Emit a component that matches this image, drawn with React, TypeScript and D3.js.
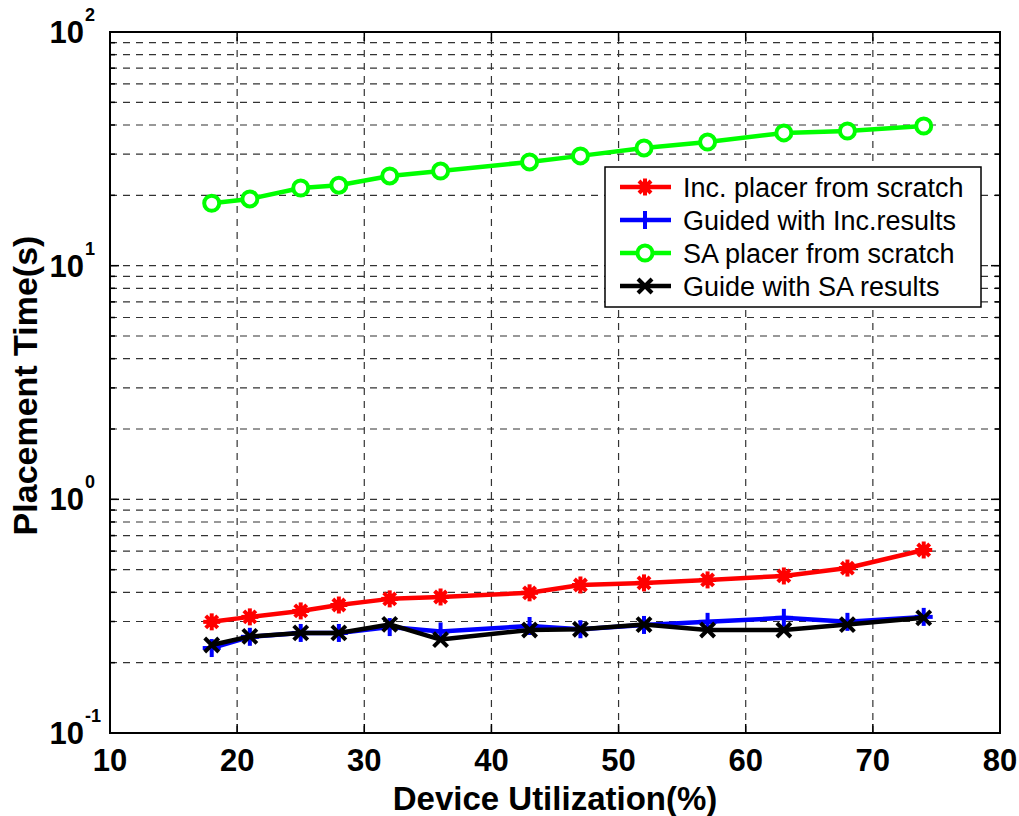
import React from "react";
import * as d3 from "d3";

// device utilization (%) at each run
const utilization = [18, 21, 25, 28, 32, 36, 43, 47, 52, 57, 63, 68, 74];

// placement time in seconds
const incScratch = [0.299, 0.314, 0.333, 0.353, 0.375, 0.382, 0.398, 0.43, 0.439, 0.452, 0.47, 0.508, 0.607];
const guidedInc = [0.231, 0.258, 0.268, 0.268, 0.284, 0.272, 0.287, 0.278, 0.29, 0.299, 0.311, 0.299, 0.314];
const saScratch = [18.5, 19.3, 21.5, 22.1, 24.2, 25.4, 27.8, 29.5, 31.9, 33.8, 37.0, 37.7, 39.6];
const guideSA = [0.238, 0.259, 0.268, 0.268, 0.2915, 0.251, 0.276, 0.278, 0.291, 0.276, 0.276, 0.291, 0.311];

const xTicks = [10, 20, 30, 40, 50, 60, 70, 80];
const yDecades = [-1, 0, 1, 2];

const seriesNames = [
  "Inc. placer from scratch",
  "Guided with Inc.results",
  "SA placer from scratch",
  "Guide with SA results",
];

const width = 1019;
const height = 816;
const margin = { top: 32, right: 19, bottom: 83, left: 110 };
const font = "'Liberation Sans', Arial, Helvetica, sans-serif";

type Kind = "star" | "plus" | "circle" | "cross";

const Marker = ({ x, y, kind, color }: { x: number; y: number; kind: Kind; color: string }) => {
  if (kind === "circle") {
    return <circle cx={x} cy={y} r={7.5} fill="white" stroke={color} strokeWidth={4} />;
  }
  if (kind === "plus") {
    const s = 9;
    return (
      <g stroke={color} strokeWidth={4}>
        <line x1={x - s} y1={y} x2={x + s} y2={y} />
        <line x1={x} y1={y - s} x2={x} y2={y + s} />
      </g>
    );
  }
  if (kind === "cross") {
    const s = 7;
    return (
      <g stroke={color} strokeWidth={4}>
        <line x1={x - s} y1={y - s} x2={x + s} y2={y + s} />
        <line x1={x - s} y1={y + s} x2={x + s} y2={y - s} />
      </g>
    );
  }
  const s = 8.5;
  const d = 6;
  return (
    <g stroke={color} strokeWidth={4}>
      <circle cx={x} cy={y} r={5.5} fill={color} stroke="none" />
      <line x1={x - s} y1={y} x2={x + s} y2={y} />
      <line x1={x} y1={y - s} x2={x} y2={y + s} />
      <line x1={x - d} y1={y - d} x2={x + d} y2={y + d} />
      <line x1={x - d} y1={y + d} x2={x + d} y2={y - d} />
    </g>
  );
};

export default function App() {
  const x = d3.scaleLinear().domain([10, 80]).range([margin.left, width - margin.right]);
  const y = d3.scaleLog().domain([0.1, 100]).range([height - margin.bottom, margin.top]);
  const [x0, x1] = x.range();
  const [y0, y1] = y.range();

  const series = [
    { name: seriesNames[0], values: incScratch, color: "#ff0000", kind: "star" as Kind },
    { name: seriesNames[1], values: guidedInc, color: "#0000ff", kind: "plus" as Kind },
    { name: seriesNames[2], values: saScratch, color: "#00ff00", kind: "circle" as Kind },
    { name: seriesNames[3], values: guideSA, color: "#000000", kind: "cross" as Kind },
  ];

  const line = d3
    .line<[number, number]>()
    .x((d) => x(d[0]))
    .y((d) => y(d[1]));

  // every 1..9 step in each decade gets a grid line
  const yGrid: number[] = [];
  for (let e = -1; e < 2; e++) {
    for (let m = 1; m < 10; m++) yGrid.push(m * Math.pow(10, e));
  }
  yGrid.push(100);

  const legend = { x: 605, y: 167, w: 376, h: 140, row: 33 };

  return (
    <svg
      width={width}
      height={height}
      style={{ position: "absolute", left: 0, top: 0, background: "white" }}
      fontFamily={font}
    >
      <rect x={0} y={0} width={width} height={height} fill="white" />

      {/* grid */}
      <g stroke="#333" strokeWidth={1.2} strokeDasharray="7,6">
        {yGrid.slice(1, -1).map((v) => (
          <line key={"gy" + v} x1={x0} x2={x1} y1={y(v)} y2={y(v)} />
        ))}
        {xTicks.slice(1, -1).map((v) => (
          <line key={"gx" + v} x1={x(v)} x2={x(v)} y1={y0} y2={y1} />
        ))}
      </g>

      {/* ticks */}
      <g stroke="black" strokeWidth={1.5}>
        {xTicks.map((v) => (
          <g key={"tx" + v}>
            <line x1={x(v)} x2={x(v)} y1={y0} y2={y0 - 9} />
            <line x1={x(v)} x2={x(v)} y1={y1} y2={y1 + 9} />
          </g>
        ))}
        {yGrid.map((v, i) => {
          const len = i % 9 === 0 ? 9 : 5;
          return (
            <g key={"ty" + v}>
              <line x1={x0} x2={x0 + len} y1={y(v)} y2={y(v)} />
              <line x1={x1} x2={x1 - len} y1={y(v)} y2={y(v)} />
            </g>
          );
        })}
      </g>

      {/* data */}
      {series.map((s) => (
        <g key={s.name}>
          <path
            d={line(utilization.map((u, i) => [u, s.values[i]] as [number, number])) || ""}
            fill="none"
            stroke={s.color}
            strokeWidth={4.5}
            strokeLinejoin="round"
          />
          {utilization.map((u, i) => (
            <Marker key={u} x={x(u)} y={y(s.values[i])} kind={s.kind} color={s.color} />
          ))}
        </g>
      ))}

      {/* axes box */}
      <rect x={x0} y={y1} width={x1 - x0} height={y0 - y1} fill="none" stroke="black" strokeWidth={2} />

      {/* tick labels */}
      <g fontWeight="bold" fontSize={31} fill="black">
        {xTicks.map((v) => (
          <text key={"lx" + v} x={x(v)} y={y0 + 38} textAnchor="middle">
            {v}
          </text>
        ))}
        {yDecades.map((e) => (
          <g key={"ly" + e}>
            <text x={84} y={y(Math.pow(10, e)) + 11} textAnchor="end">
              10
            </text>
            <text x={85} y={y(Math.pow(10, e)) - 11} fontSize={18} textAnchor="start">
              {e < 0 ? "-" + Math.abs(e) : e}
            </text>
          </g>
        ))}
      </g>

      {/* axis titles */}
      <text
        x={(x0 + x1) / 2}
        y={810}
        textAnchor="middle"
        fontWeight="bold"
        fontSize={33}
      >
        Device Utilization(%)
      </text>
      <text
        transform={`translate(37,${(y0 + y1) / 2 + 3}) rotate(-90)`}
        textAnchor="middle"
        fontWeight="bold"
        fontSize={34}
      >
        Placement Time(s)
      </text>

      {/* legend */}
      <g>
        <rect
          x={legend.x}
          y={legend.y}
          width={legend.w}
          height={legend.h}
          fill="white"
          stroke="black"
          strokeWidth={1.5}
        />
        {series.map((s, i) => {
          const cy = legend.y + 20 + i * legend.row;
          return (
            <g key={"lg" + s.name}>
              <line x1={legend.x + 15} x2={legend.x + 66} y1={cy} y2={cy} stroke={s.color} strokeWidth={4.5} />
              <Marker x={legend.x + 40} y={cy} kind={s.kind} color={s.color} />
              <text x={legend.x + 78} y={cy + 10} fontSize={27} fill="black">
                {s.name}
              </text>
            </g>
          );
        })}
      </g>
    </svg>
  );
}
